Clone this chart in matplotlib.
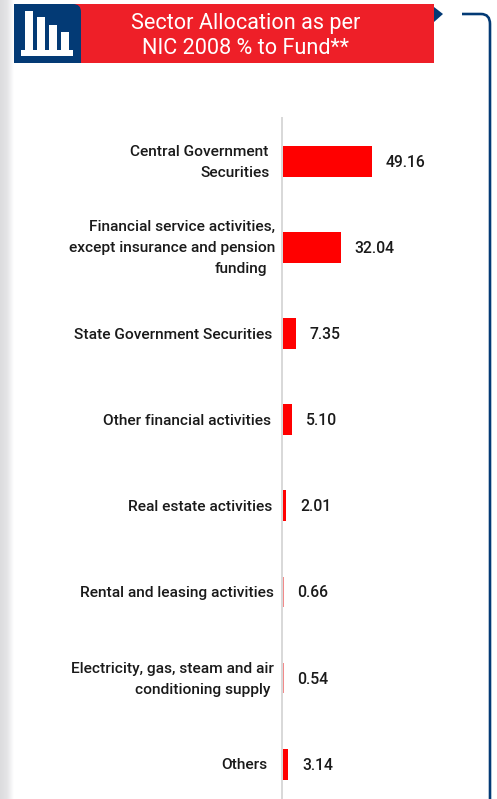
import matplotlib
matplotlib.use("Agg")
import matplotlib.pyplot as plt
import numpy as np
from matplotlib.colors import LinearSegmentedColormap
from matplotlib.patches import Polygon, Rectangle, PathPatch
from matplotlib.path import Path

plt.rcParams['font.family'] = ['Roboto', 'DejaVu Sans']

title_lines = ["Sector Allocation as per", "NIC 2008 % to Fund**"]
sectors = [
    ["Central Government", "Securities"],
    ["Financial service activities,", "except insurance and pension", "funding"],
    ["State Government Securities"],
    ["Other financial activities"],
    ["Real estate activities"],
    ["Rental and leasing activities"],
    ["Electricity, gas, steam and air", "conditioning supply"],
    ["Others"],
]
values = [49.16, 32.04, 7.35, 5.10, 2.01, 0.66, 0.54, 3.14]
value_labels = ["49.16", "32.04", "7.35", "5.10", "2.01", "0.66", "0.54", "3.14"]

# right edge (pixels) of every label line, they don't line up in the original
label_right = [[268, 270], [275, 275, 267], [272], [271], [272], [274], [274, 270], [267]]
# the two thinnest bars come out washed out in the original
bar_colors = ["#ff0000"] * 5 + ["#f28a8a", "#f28a8a"] + ["#ff0000"]

BANNER = "#ee1f28"
NAVY = "#033a75"
W, H = 497, 799
PX = 72 / 100  # points per pixel


def add_page(fig):
    # full figure axes in pixel coords for banner, icon and bracket
    page = fig.add_axes([0, 0, 1, 1])
    page.set_xlim(0, W)
    page.set_ylim(H, 0)
    page.axis("off")

    cmap = LinearSegmentedColormap.from_list("edge", ["#dcdcde", "#e4e4e6", "#ffffff"])
    grad = np.linspace(0, 1, 64).reshape(1, -1)
    page.imshow(grad, cmap=cmap, extent=[0, 14, H, 0], aspect="auto", zorder=0)
    page.set_xlim(0, W)
    page.set_ylim(H, 0)

    page.add_patch(Rectangle((14, 4), 420, 59, fc=BANNER, ec="none", zorder=1))
    page.add_patch(Polygon([(434, 7), (443, 14), (434, 22)], fc=NAVY, ec="none", zorder=1))

    # icon block, rounded in top right corner only
    verts = [(14, 4), (73, 4), (81, 4), (81, 12), (81, 63), (14, 63), (14, 4)]
    codes = [Path.MOVETO, Path.LINETO, Path.CURVE3, Path.CURVE3, Path.LINETO, Path.LINETO, Path.CLOSEPOLY]
    page.add_patch(PathPatch(Path(verts, codes), fc=NAVY, ec="none", zorder=2))
    for x0, x1, top in [(25, 33.3, 11), (37, 45, 17), (49.3, 57, 25), (61, 69, 32)]:
        page.add_patch(Rectangle((x0, top), x1 - x0, 50 - top, fc="white", ec="none", zorder=3))
    page.add_patch(Rectangle((21, 50), 52, 5.7, fc="white", ec="none", zorder=3))

    # bracket on the right
    verts = [(462, 14), (481, 14), (490, 14), (490, 24), (490, 799)]
    codes = [Path.MOVETO, Path.LINETO, Path.CURVE3, Path.CURVE3, Path.LINETO]
    page.add_patch(PathPatch(Path(verts, codes), fc="none", ec=NAVY, lw=2.6 * PX, zorder=1))

    page.text(245.5, 23, title_lines[0], color="white", fontsize=15.55, ha="center", va="center", zorder=4)
    page.text(245.5, 48, title_lines[1], color="white", fontsize=15.55, ha="center", va="center", zorder=4)


def add_chart(fig):
    x0, top, bottom = 282.7, 118.2, 807.3
    ax = fig.add_axes([x0 / W, 1 - bottom / H, 1 - x0 / W, (bottom - top) / H])
    ax.patch.set_alpha(0)
    ax.set_xlim(0, (W - x0) / 1.817)
    ax.set_ylim(len(values) - 0.5, -0.5)

    y = np.arange(len(values))
    ax.barh(y, values, height=0.357, color=bar_colors, linewidth=0)

    for s in ["top", "right", "bottom"]:
        ax.spines[s].set_visible(False)
    ax.spines["left"].set_color("#d9d9d9")
    ax.spines["left"].set_linewidth(2 * PX)
    ax.spines["left"].set_position(("outward", 1 * PX))
    ax.set_xticks([])
    ax.set_yticks([])

    for i, lines in enumerate(sectors):
        n = len(lines)
        for j, line in enumerate(lines):
            dy = (j - (n - 1) / 2) * 21 + 1
            ax.annotate(line, xy=(0, i), xytext=((label_right[i][j] - x0) * PX, -dy * PX),
                        textcoords="offset points", ha="right", va="center",
                        fontsize=11.15, fontweight=500, color="#1a1a1a", annotation_clip=False)
        ax.annotate(value_labels[i], xy=(values[i], i), xytext=(13.7 * PX, -1 * PX),
                    textcoords="offset points", ha="left", va="center",
                    fontsize=11.3, fontweight=500, color="#1a1a1a")


if __name__ == "__main__":
    fig = plt.figure(figsize=(W / 100, H / 100), dpi=100, facecolor="white")
    add_page(fig)
    add_chart(fig)
    fig.savefig("out.png", dpi=100)
